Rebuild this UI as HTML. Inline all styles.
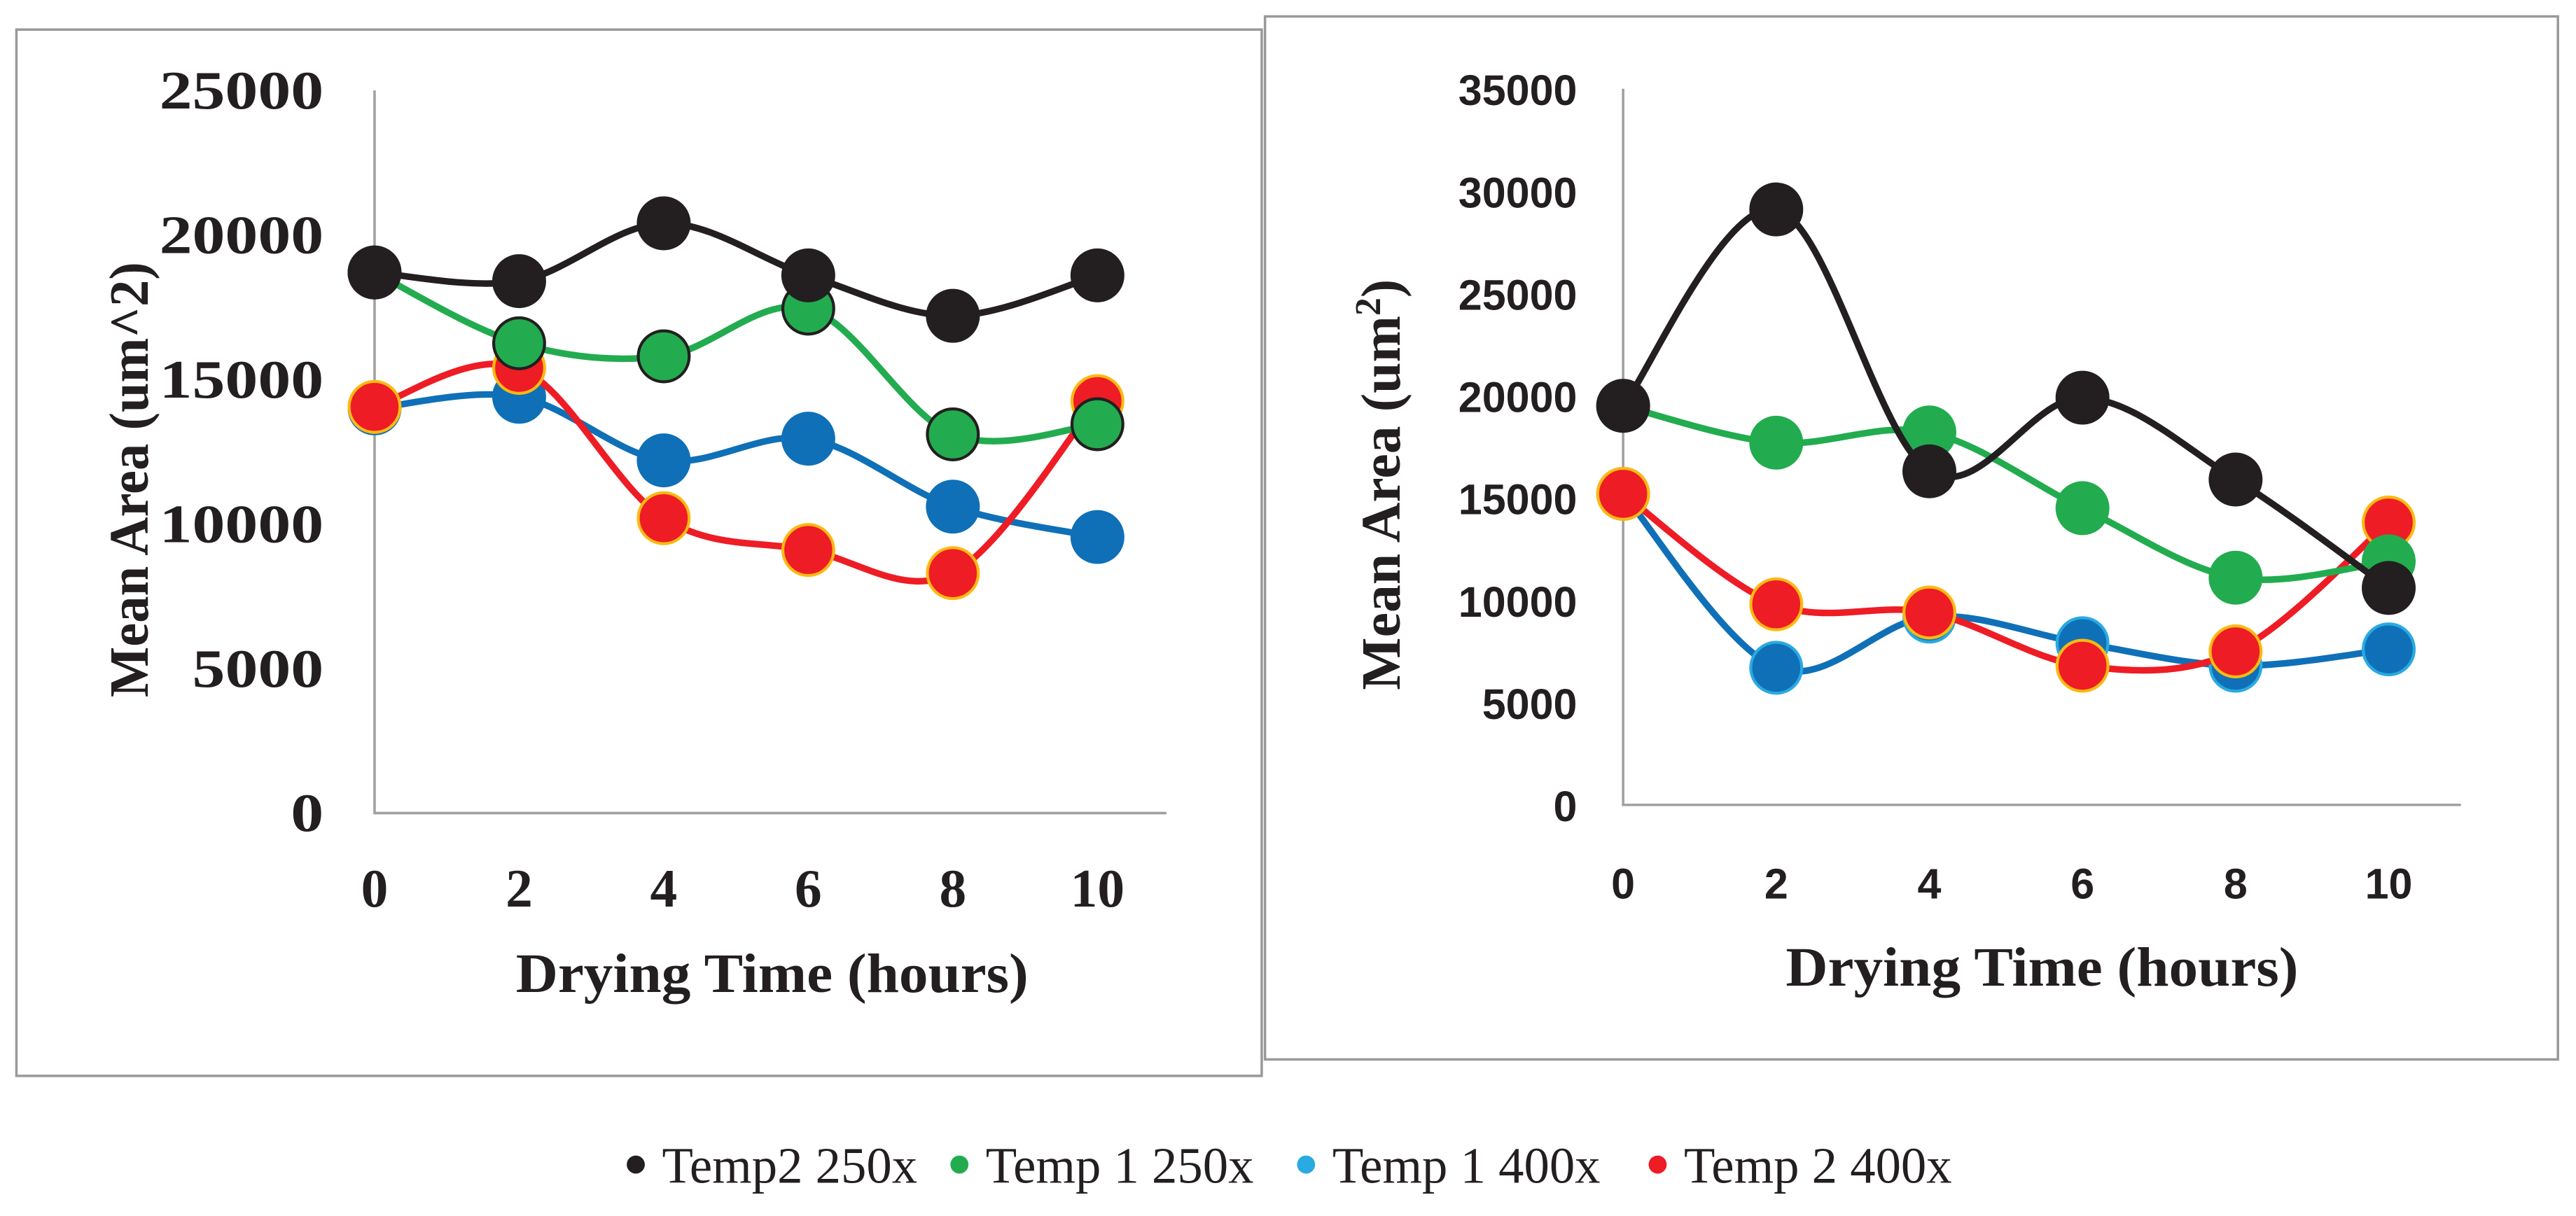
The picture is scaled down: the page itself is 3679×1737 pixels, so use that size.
<!DOCTYPE html>
<html><head><meta charset="utf-8"><style>
html,body{margin:0;padding:0;background:#fff;}
svg{display:block;}
.tk{font-family:"Liberation Serif",serif;font-weight:bold;font-size:33px;fill:#231f20;}
.tk2{font-family:"Liberation Sans",sans-serif;font-weight:bold;font-size:26px;fill:#231f20;}
.ttl{font-family:"Liberation Serif",serif;font-weight:bold;font-size:34px;fill:#231f20;}
.lg{font-family:"Liberation Serif",serif;font-size:31px;fill:#231f20;}
</style></head><body>
<svg id="chart" width="3679" height="1737" viewBox="0 0 1568 740.3">
<rect x="10" y="18" width="758" height="637" fill="none" stroke="#999" stroke-width="1.5"/>
<rect x="770" y="10" width="787" height="635" fill="none" stroke="#999" stroke-width="1.5"/>
<g id="left"></g>
<g id="right"></g>
<g id="legend"></g>
</svg>
<script>
const categories = [0, 2, 4, 6, 8, 10];
const seriesNames = ["Temp2 250x", "Temp 1 250x", "Temp 1 400x", "Temp 2 400x"];
const leftTicks = [0, 5000, 10000, 15000, 20000, 25000];
const rightTicks = [0, 5000, 10000, 15000, 20000, 25000, 30000, 35000];
const leftBlack = [18700, 18400, 20400, 18600, 17200, 18600];
const leftGreen = [18700, 16250, 15800, 17450, 13100, 13450];
const leftBlue = [14000, 14400, 12200, 12950, 10600, 9550];
const leftRed = [14050, 15400, 10200, 9100, 8300, 14250];
const rightBlack = [19500, 29100, 16300, 19900, 15900, 10600];
const rightGreen = [19500, 17700, 18200, 14500, 11100, 11900];
const rightBlue = [15200, 6700, 9200, 7900, 6800, 7600];
const rightRed = [15200, 9800, 9400, 6800, 7500, 13800];

const NS = "http://www.w3.org/2000/svg";
function mk(tag, attrs, parent){const e=document.createElementNS(NS,tag);for(const k in attrs)e.setAttribute(k,attrs[k]);parent.appendChild(e);return e;}
function smooth(pts){
  let d="M"+pts[0][0]+","+pts[0][1];
  for(let i=0;i<pts.length-1;i++){
    const p0=pts[Math.max(i-1,0)],p1=pts[i],p2=pts[i+1],p3=pts[Math.min(i+2,pts.length-1)];
    const t=1/6;
    const c1=[p1[0]+(p2[0]-p0[0])*t,p1[1]+(p2[1]-p0[1])*t];
    const c2=[p2[0]-(p3[0]-p1[0])*t,p2[1]-(p3[1]-p1[1])*t];
    d+=" C"+c1[0]+","+c1[1]+" "+c2[0]+","+c2[1]+" "+p2[0]+","+p2[1];
  }
  return d;
}
function panel(g, cfg){
  const xs=v=>cfg.x0+(v-categories[0])/(categories[categories.length-1]-categories[0])*(cfg.x10-cfg.x0);
  const ys=v=>cfg.yb-v/cfg.ymax*(cfg.yb-cfg.yt);
  const ax=mk("path",{d:"M"+cfg.x0+","+cfg.yt+" V"+cfg.yb+" H"+cfg.xend,fill:"none",stroke:"#a0a0a0","stroke-width":1.5},g);
  
  
  cfg.ticks.forEach(t=>{
    const s=String(t);
    const a={x:cfg.x0-cfg.labOff,y:ys(t)+cfg.tkDy,"text-anchor":"end",class:cfg.tkClass};
    if(cfg.charW){a.textLength=s.length*cfg.charW;a.lengthAdjust="spacingAndGlyphs";}
    const e=mk("text",a,g);
    e.textContent=s;
    
    
  });
  categories.forEach(c=>{
    const e=mk("text",{x:xs(c),y:cfg.yb+cfg.xlabOff,"text-anchor":"middle",class:cfg.tkClass},g);
    e.textContent=c;
    
    
  });
  const xt=mk("text",{x:cfg.xtx,y:cfg.xty,"text-anchor":"middle",class:"ttl",textLength:312,lengthAdjust:"spacingAndGlyphs"},g);
  xt.textContent="Drying Time (hours)";
  
  
  const yt=mk("text",{x:0,y:0,"text-anchor":"middle",class:"ttl",transform:"translate("+cfg.ytx+","+cfg.yty+") rotate(-90)"},g);
  if(cfg.sup){yt.innerHTML='Mean Area (um<tspan dy="-12" font-size="22">2</tspan><tspan dy="12">)</tspan>';}
  else {yt.textContent="Mean Area (um^2)";yt.setAttribute("textLength",265);yt.setAttribute("lengthAdjust","spacingAndGlyphs");}
  
  
  cfg.series.forEach(s=>{
    const pts=s.data.map((v,i)=>[xs(categories[i]),ys(v)]);
    const p=mk("path",{d:smooth(pts),fill:"none",stroke:s.line,"stroke-width":4},g);
    
    
    pts.forEach(pt=>{
      const c=mk("circle",{cx:pt[0],cy:pt[1],r:15.5,fill:s.fill,stroke:s.stroke,"stroke-width":1.8},g);
      
      
    });
  });
}
panel(document.getElementById("left"),{x0:228,x10:668,xend:710,yt:55,yb:495,ymax:25000,ticks:leftTicks,tkClass:"tk",labOff:31,tkDy:11,charW:20,xlabOff:57,xtx:470,xty:604,ytx:90,yty:292,sup:false,
  series:[
    {name:"temp1-400x",data:leftBlue,line:"#0f70b7",fill:"#0f70b7",stroke:"#0f70b7"},
    {name:"temp2-400x",data:leftRed,line:"#ee1c25",fill:"#ee1c25",stroke:"#fdb913"},
    {name:"temp1-250x",data:leftGreen,line:"#22ac4f",fill:"#22ac4f",stroke:"#231f20"},
    {name:"temp2-250x",data:leftBlack,line:"#231f20",fill:"#231f20",stroke:"#231f20"}]});
panel(document.getElementById("right"),{x0:988,x10:1454,xend:1498,yt:54,yb:490,ymax:35000,ticks:rightTicks,tkClass:"tk2",labOff:28,tkDy:10,charW:0,xlabOff:57,xtx:1243,xty:600,ytx:852,yty:295,sup:true,
  series:[
    {name:"temp1-400x",data:rightBlue,line:"#0f70b7",fill:"#0f70b7",stroke:"#29aae1"},
    {name:"temp2-400x",data:rightRed,line:"#ee1c25",fill:"#ee1c25",stroke:"#fdb913"},
    {name:"temp1-250x",data:rightGreen,line:"#22ac4f",fill:"#22ac4f",stroke:"#22ac4f"},
    {name:"temp2-250x",data:rightBlack,line:"#231f20",fill:"#231f20",stroke:"#231f20"}]});
const lg=document.getElementById("legend");
const lgColors=["#231f20","#22ac4f","#29aae1","#ee1c25"];
const lgX=[387,584,795,1009];
seriesNames.forEach((n,i)=>{
  const c=mk("circle",{cx:lgX[i],cy:709,r:5.5,fill:lgColors[i]},lg);
  
  
  const t=mk("text",{x:lgX[i]+16,y:720,class:"lg"},lg);
  t.textContent=n;
  
  
});
</script>
</body></html>
